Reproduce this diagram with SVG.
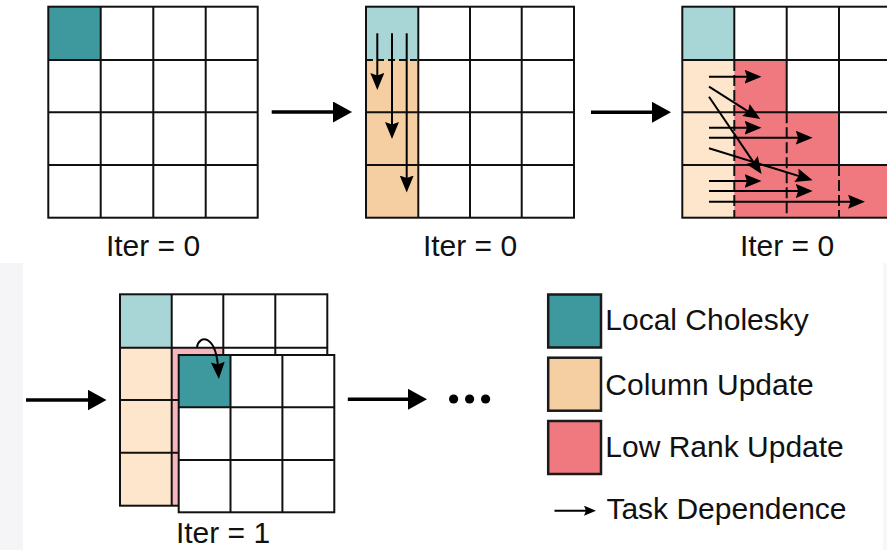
<svg xmlns="http://www.w3.org/2000/svg" width="887" height="550" viewBox="0 0 887 550">
<style>
.g{fill:none;stroke:#111;stroke-width:2}
.d{fill:none;stroke:#111;stroke-width:2;stroke-dasharray:11 4}
.big{fill:none;stroke:#000;stroke-width:3.5}
.sm{fill:none;stroke:#000;stroke-width:2}
.t{font-family:"Liberation Sans",Arial,sans-serif;font-size:30px;fill:#111}
.teal{fill:#3D999E}
.lteal{fill:#A8D5D5}
.peach{fill:#F5CFA1}
.lpeach{fill:#FDE6CC}
.red{fill:#F07980}
.pink{fill:#F7B5BE}
.box{stroke:#1a1a1a;stroke-width:2.5}
</style>
<defs>
<marker id="hb" markerUnits="userSpaceOnUse" markerWidth="20" markerHeight="22" refX="9" refY="10.5" orient="auto">
<path d="M0,0 L19,10.5 L0,21 z" fill="#000"/>
</marker>
<marker id="hs" markerUnits="userSpaceOnUse" markerWidth="18" markerHeight="15" refX="8" refY="7" orient="auto">
<path d="M0,0 L17,7 L0,14 L2.5,7 z" fill="#000"/>
</marker>
<marker id="ht" markerUnits="userSpaceOnUse" markerWidth="13" markerHeight="11" refX="5" refY="5" orient="auto">
<path d="M0,0 L12,5 L0,10 L2,5 z" fill="#000"/>
</marker>
</defs>
<rect width="887" height="550" fill="#fff"/>
<rect x="0" y="263" width="23" height="287" fill="#F5F5F7"/>
<rect x="883" y="263" width="4" height="287" fill="#F7F7F8"/>

<g id="panel1">
<rect x="48.3" y="6.7" width="209.4" height="211" fill="#fff"/>
<rect class="teal" x="48.3" y="6.7" width="52.4" height="53.3"/>
<rect class="g" x="48.3" y="6.7" width="209.4" height="211"/>
<path class="g" d="M100.7,6.7V217.7M153.3,6.7V217.7M205.7,6.7V217.7M48.3,60H257.7M48.3,112.3H257.7M48.3,165H257.7"/>
<text class="t" x="153" y="256" text-anchor="middle">Iter = 0</text>
</g>

<g id="panel2">
<rect x="366" y="6.7" width="208" height="211" fill="#fff"/>
<rect class="lteal" x="366" y="6.7" width="52.3" height="53.3"/>
<rect class="peach" x="366" y="60" width="52.3" height="157.7"/>
<rect class="g" x="366" y="6.7" width="208" height="211"/>
<path class="g" d="M418.3,6.7V217.7M470,6.7V217.7M521.7,6.7V217.7M418.3,60H574M366,112.3H574M366,165H574"/>
<path class="g" d="M366,60H418.3" stroke-dasharray="7 4"/>
<text class="t" x="470" y="256" text-anchor="middle">Iter = 0</text>
</g>

<g id="panel3">
<rect x="682.3" y="6.7" width="210" height="211" fill="#fff"/>
<rect class="lteal" x="682.3" y="6.7" width="52" height="53.3"/>
<rect class="lpeach" x="682.3" y="60" width="52" height="157.7"/>
<rect class="red" x="734.3" y="60" width="52.4" height="52.3"/>
<rect class="red" x="734.3" y="112.3" width="104.7" height="52.7"/>
<rect class="red" x="734.3" y="165" width="157" height="52.7"/>
<rect class="g" x="682.3" y="6.7" width="210" height="211"/>
<path class="g" d="M734.3,6.7V60M786.7,6.7V112.3M839,6.7V165M682.3,60H892M682.3,112.3H892M682.3,165H892"/>
<path class="d" d="M734.3,60V217.7M786.7,112.3V217.7M839,165V217.7"/>
<text class="t" x="787" y="256" text-anchor="middle">Iter = 0</text>
</g>

<g id="panel4">
<rect x="120" y="294.3" width="207.3" height="211.4" fill="#fff"/>
<rect class="lteal" x="120" y="294.3" width="51.7" height="53.4"/>
<rect class="lpeach" x="120" y="347.7" width="51.7" height="158"/>
<rect class="pink" x="171.7" y="347.7" width="51.6" height="52.3"/>
<rect class="pink" x="171.7" y="400" width="103.6" height="52.7"/>
<rect class="pink" x="171.7" y="452.7" width="155.6" height="53"/>
<rect class="g" x="120" y="294.3" width="207.3" height="211.4"/>
<path class="g" d="M171.7,294.3V505.7M223.3,294.3V505.7M275.3,294.3V505.7M120,347.7H327.3M120,400H327.3M120,452.7H327.3"/>
<rect x="178.7" y="355" width="155.6" height="157.3" fill="#fff"/>
<rect class="teal" x="178.7" y="355" width="51.8" height="52.3"/>
<rect class="g" x="178.7" y="355" width="155.6" height="157.3"/>
<path class="g" d="M230.5,355V512.3M282.4,355V512.3M178.7,407.3H334.3M178.7,460H334.3"/>
<path class="sm" d="M197,347 C199,335 216,333 218.3,370" marker-end="url(#hs)"/>
<text class="t" x="223" y="543" text-anchor="middle">Iter = 1</text>
</g>

<g id="legend">
<rect class="teal box" x="548.2" y="294.5" width="52.8" height="53"/>
<rect class="peach box" x="548.2" y="357.7" width="52.8" height="53"/>
<rect class="red box" x="548.2" y="421" width="52.8" height="53"/>
<text class="t" x="605.3" y="330">Local Cholesky</text>
<text class="t" x="605.3" y="395">Column Update</text>
<text class="t" x="605.3" y="456.7">Low Rank Update</text>
<text class="t" x="606.4" y="519.3">Task Dependence</text>
<path class="sm" d="M554.5,510.7H589" marker-end="url(#ht)"/>
<circle cx="453.6" cy="399" r="4.6" fill="#000"/>
<circle cx="469.6" cy="399" r="4.6" fill="#000"/>
<circle cx="485.6" cy="399" r="4.6" fill="#000"/>
</g>

<g id="connectors">
<path class="big" d="M271.7,112H342" marker-end="url(#hb)"/>
<path class="big" d="M591,112.3H661" marker-end="url(#hb)"/>
<path class="big" d="M26,400H96.5" marker-end="url(#hb)"/>
<path class="big" d="M347.8,399.3H417" marker-end="url(#hb)"/>
<path class="sm" d="M377.3,33.3V81" marker-end="url(#hs)"/>
<path class="sm" d="M392,33.3V130" marker-end="url(#hs)"/>
<path class="sm" d="M406.7,33.3V183.5" marker-end="url(#hs)"/>
<path class="sm" d="M709,76.7H752.5" marker-end="url(#hs)"/>
<path class="sm" d="M709,86.7L752.7,114.3" marker-end="url(#hs)"/>
<path class="sm" d="M709,96.7L756.5,166.6" marker-end="url(#hs)"/>
<path class="sm" d="M709,127.7H752.5" marker-end="url(#hs)"/>
<path class="sm" d="M709,137.7H803.7" marker-end="url(#hs)"/>
<path class="sm" d="M709,148.3L804,177.6" marker-end="url(#hs)"/>
<path class="sm" d="M709,181H752.5" marker-end="url(#hs)"/>
<path class="sm" d="M709,191H803.7" marker-end="url(#hs)"/>
<path class="sm" d="M709,201.7H856" marker-end="url(#hs)"/>
</g>
</svg>
